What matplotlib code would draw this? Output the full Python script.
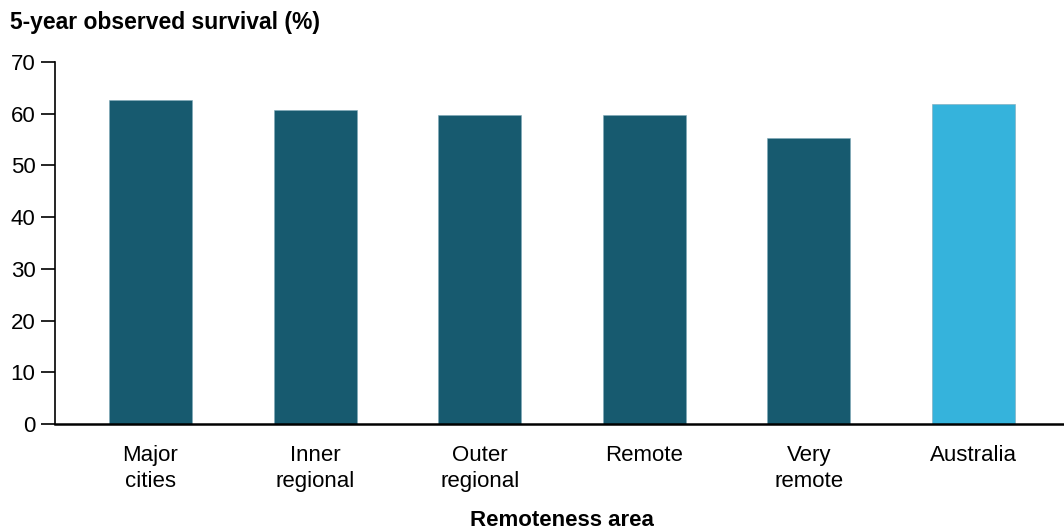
import matplotlib
matplotlib.use("Agg")
import matplotlib.pyplot as plt

# Data
categories = ["Major\ncities", "Inner\nregional", "Outer\nregional", "Remote", "Very\nremote", "Australia"]
survival = [62.6, 60.7, 59.7, 59.7, 55.3, 61.8]
colors = ["#175A6F"] * 5 + ["#35B3DC"]
y_ticks = [0, 10, 20, 30, 40, 50, 60, 70]

plt.rcParams["font.family"] = ["Liberation Sans", "DejaVu Sans"]

fig = plt.figure(figsize=(10.64, 5.31), dpi=100)
ax = fig.add_axes([55 / 1064, 1 - 424 / 531, 1 - 55 / 1064, (424 - 62) / 531])

x = list(range(len(categories)))
ax.bar(x, survival, width=0.505, color=colors, edgecolor="#7FA9B8", linewidth=0.4)

ax.set_xlim(-0.58, 5.55)
ax.set_ylim(0, 70)
ax.set_yticks(y_ticks)
ax.set_xticks(x)
ax.set_xticklabels(categories, fontsize=16, linespacing=1.32, va="top")
ax.tick_params(axis="x", length=0, pad=15)
ax.tick_params(axis="y", length=10, width=1.2, labelsize=16, pad=4, direction="out")

for side in ["top", "right"]:
    ax.spines[side].set_visible(False)
ax.spines["left"].set_linewidth(1.2)
ax.spines["bottom"].set_linewidth(1.8)

fig.text(10 / 1064, 1 - 22 / 531, "5-year observed survival (%)", fontsize=16.5,
         fontweight="bold", ha="left", va="center")
fig.text(562 / 1064, 1 - 520 / 531, "Remoteness area", fontsize=16,
         fontweight="bold", ha="center", va="center")

fig.savefig("out.png", dpi=100)
